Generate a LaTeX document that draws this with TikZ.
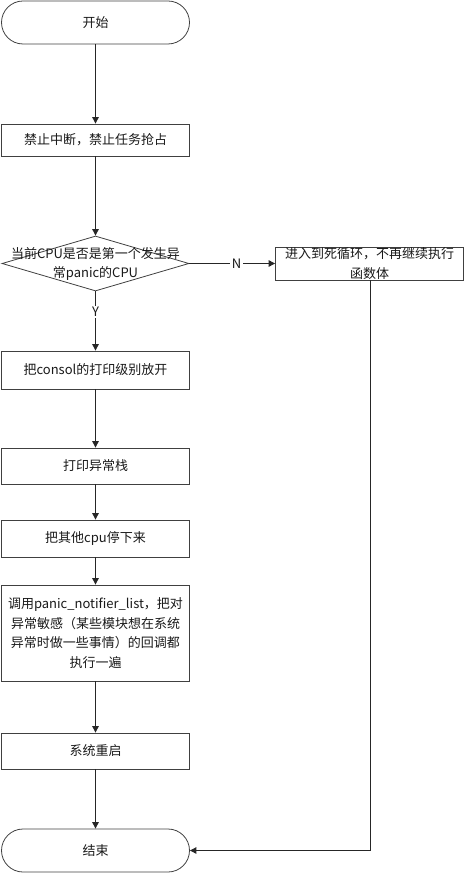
\documentclass[tikz,border=0pt]{standalone}
\usepackage{fontspec}
\setmainfont{Noto Sans CJK SC}
\usetikzlibrary{shapes.geometric,arrows.meta}
\begin{document}
\begin{tikzpicture}[x=1pt,y=-1pt,
  every node/.style={font=\fontsize{13}{19.5}\selectfont, text=black!90},
  line/.style={draw=black!85, line width=0.9pt},
  arr/.style={line, -{Triangle[width=6.5pt,length=6.5pt]}},
  proc/.style={draw=black!75, line width=0.8pt, rectangle, minimum width=188pt, inner sep=0pt, align=center},
  term/.style={draw=black!75, line width=0.8pt, rectangle, rounded corners=21.5pt, minimum width=188pt, minimum height=43pt, inner sep=0pt},
  lbl/.style={fill=white, inner sep=1.5pt}
]
\useasboundingbox (0,0) rectangle (465,874);
\node[term] (start) at (95.5,22.5) {开始};
\node[proc, minimum height=32pt] (b1) at (95.5,140) {禁止中断，禁止任务抢占};
\node[draw=black!75, line width=0.8pt, diamond, minimum width=187pt, minimum height=55pt, inner sep=0pt] (dec) at (95.5,263.5) {};
\node[align=center] (dect) at (95.5,264) {当前CPU是否是第一个发生异\\常panic的CPU};
\node[proc, minimum height=33pt] (loop) at (369.5,263.5) {进入到死循环，不再继续执行\\函数体};
\node[proc, minimum height=38pt] (b2) at (95.5,370) {把consol的打印级别放开};
\node[proc, minimum height=36pt] (b3) at (95.5,466) {打印异常栈};
\node[proc, minimum height=37pt] (b4) at (95.5,538.5) {把其他cpu停下来};
\node[proc, minimum height=96pt] (b5) at (95.5,633) {调用panic\_notifier\_list，把对\\异常敏感（某些模块想在系统\\异常时做一些事情）的回调都\\执行一遍};
\node[proc, minimum height=36pt] (b6) at (95.5,751) {系统重启};
\node[term] (stop) at (95.5,850.5) {结束};
\coordinate (c1) at (370,850.5);
\draw[arr] (start) -- (b1);
\draw[arr] (b1) -- (dec);
\draw[arr] (dec.south) -- (b2.north) node[lbl, pos=0.35] {Y};
\draw[arr] (dec.east) -- (loop.west) node[lbl, pos=0.55] {N};
\draw[arr] (b2) -- (b3);
\draw[arr] (b3) -- (b4);
\draw[arr] (b4) -- (b5);
\draw[arr] (b5) -- (b6);
\draw[arr] (b6) -- (stop);
\draw[arr] (loop.south -| c1) -- (c1) -- (stop.east);
\end{tikzpicture}
\end{document}
